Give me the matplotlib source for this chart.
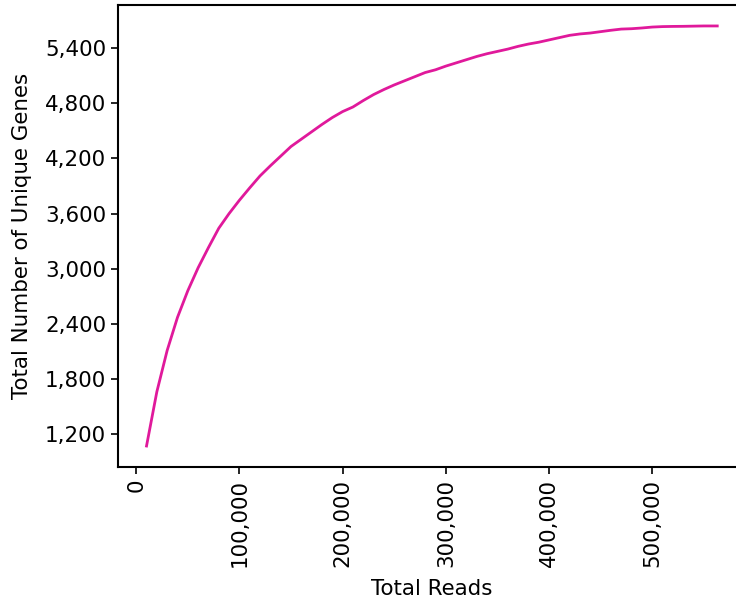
import matplotlib.pyplot as plt
from matplotlib.ticker import FuncFormatter, MultipleLocator

# reads sampled vs unique genes found
total_reads = [10000, 20000, 30000, 40000, 50000, 60000, 70000, 80000, 90000, 100000,
               110000, 120000, 130000, 140000, 150000, 160000, 170000, 180000, 190000, 200000,
               210000, 220000, 230000, 240000, 250000, 260000, 270000, 280000, 290000, 300000,
               310000, 320000, 330000, 340000, 350000, 360000, 370000, 380000, 390000, 400000,
               410000, 420000, 430000, 440000, 450000, 460000, 470000, 480000, 490000, 500000,
               510000, 520000, 530000, 540000, 550000, 560000, 563000]
unique_genes = [1070, 1660, 2110, 2470, 2760, 3010, 3230, 3440, 3600, 3745,
                3880, 4010, 4120, 4225, 4330, 4410, 4490, 4570, 4645, 4710,
                4760, 4830, 4895, 4950, 5000, 5045, 5090, 5135, 5165, 5205,
                5240, 5275, 5310, 5340, 5365, 5390, 5420, 5445, 5465, 5490,
                5515, 5540, 5555, 5565, 5580, 5595, 5608, 5612, 5620, 5630,
                5635, 5637, 5638, 5640, 5642, 5642, 5642]


def main():
    fig = plt.figure(figsize=(7.36, 6.04), dpi=100)
    ax = fig.add_axes([0.1603, 0.2268, 0.853, 0.765])
    ax.plot(total_reads, unique_genes, color='#e0199b', linewidth=2)

    fmt = FuncFormatter(lambda v, p: f'{int(v):,}')
    ax.xaxis.set_major_formatter(fmt)
    ax.yaxis.set_major_formatter(fmt)
    ax.yaxis.set_major_locator(MultipleLocator(600))
    ax.xaxis.set_major_locator(MultipleLocator(100000))
    ax.tick_params(axis='both', labelsize=15.4, length=5, width=1.2)
    plt.setp(ax.get_xticklabels(), rotation=90)
    for s in ax.spines.values():
        s.set_linewidth(1.5)

    ax.set_xlabel('Total Reads', fontsize=15.4, labelpad=9)
    ax.set_ylabel('Total Number of Unique Genes', fontsize=15.4, labelpad=9)
    fig.savefig('out.png', dpi=100)


if __name__ == '__main__':
    main()
